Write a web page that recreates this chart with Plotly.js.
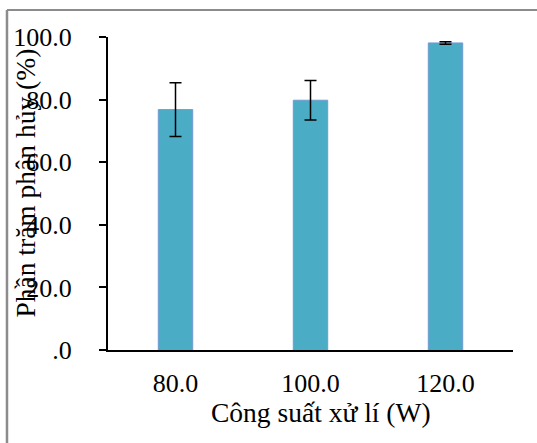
<!DOCTYPE html>
<html>
<head>
<meta charset="utf-8">
<script src="https://cdn.plot.ly/plotly-3.0.1.min.js"></script>
<style>html,body{margin:0;padding:0;background:#fff;}#chart{width:537px;height:443px;}</style>
</head>
<body>
<div id="chart"></div>
<script>
const categories = ["80.0", "100.0", "120.0"];
const values = [76.8, 79.8, 98.1];
const errors = [8.6, 6.3, 0.4];
const yTickValues = [0, 20, 40, 60, 80, 100];
const yTickLabels = [".0", "20.0", "40.0", "60.0", "80.0", "100.0"];
const xTitle = "Công suất xử lí (W)";
const yTitle = "Phần trăm phân hủy (%)";

const serif = "'Liberation Serif', 'Times New Roman', serif";

const trace = {
  type: "bar",
  x: categories,
  y: values,
  width: 0.255,
  marker: { color: "#4BACC6", line: { color: "#6F9BD3", width: 1 } },
  error_y: { type: "data", array: errors, visible: true, color: "#000000", thickness: 1.5, width: 6 },
  hoverinfo: "x+y"
};

const layout = {
  width: 537,
  height: 443,
  margin: { l: 108, r: 24, t: 37, b: 93 },
  paper_bgcolor: "#ffffff",
  plot_bgcolor: "#ffffff",
  showlegend: false,
  font: { family: serif, size: 26, color: "#000000" },
  xaxis: {
    type: "category",
    showline: true,
    linecolor: "#000000",
    linewidth: 2,
    ticks: "",
    showgrid: false,
    zeroline: false,
    ticklabelstandoff: 9,
    tickfont: { family: serif, size: 26, color: "#000000" },
    automargin: false
  },
  yaxis: {
    range: [0, 100],
    tickmode: "array",
    tickvals: yTickValues,
    ticktext: yTickLabels,
    showline: true,
    linecolor: "#000000",
    linewidth: 2,
    ticks: "outside",
    ticklen: 7,
    tickwidth: 2,
    tickcolor: "#000000",
    showgrid: false,
    zeroline: false,
    ticklabelstandoff: 22,
    tickfont: { family: serif, size: 26, color: "#000000" },
    automargin: false
  },
  annotations: [
    {
      text: yTitle,
      xref: "paper", yref: "paper",
      x: -0.2025, y: 0.535,
      xanchor: "center", yanchor: "middle",
      textangle: -90,
      showarrow: false,
      font: { family: serif, size: 27.5, color: "#000000" }
    },
    {
      text: xTitle,
      xref: "paper", yref: "paper",
      x: 0.526, y: -0.2,
      xanchor: "center", yanchor: "middle",
      showarrow: false,
      font: { family: serif, size: 27.5, color: "#000000" }
    }
  ],
  shapes: [
    { type: "line", xref: "paper", yref: "paper", x0: -0.2494, x1: 1.07, y0: 1.0863, y1: 1.0863, line: { color: "#8c8c8c", width: 2 } },
    { type: "line", xref: "paper", yref: "paper", x0: -0.2494, x1: -0.2494, y0: 1.0863, y1: -0.31, line: { color: "#8c8c8c", width: 2.5 } }
  ]
};

Plotly.newPlot("chart", [trace], layout, { displayModeBar: false, staticPlot: true });
</script>
</body>
</html>
